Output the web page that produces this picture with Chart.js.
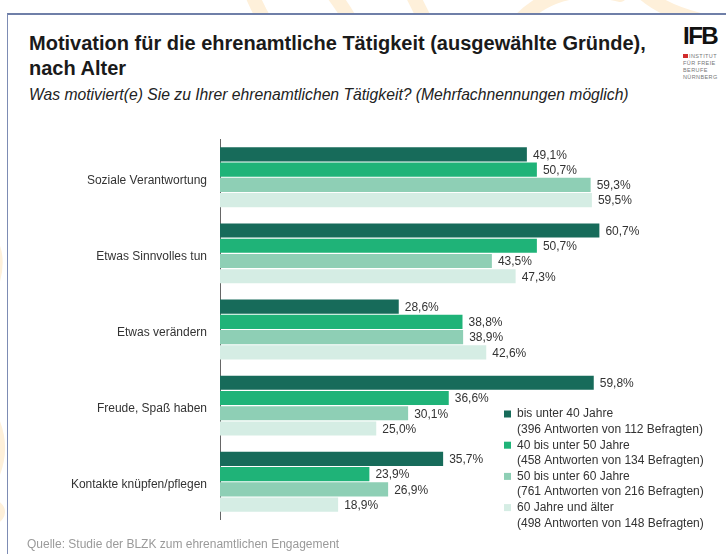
<!DOCTYPE html>
<html>
<head>
<meta charset="utf-8">
<script src="https://cdn.jsdelivr.net/npm/chart.js@4/dist/chart.umd.min.js"></script>
<style>
  body { margin: 0; width: 726px; height: 554px; background: #fff; position: relative; overflow: hidden;
         font-family: "Liberation Sans", Arial, sans-serif; color: #222; }
  #bg { position: absolute; left: 0; top: 0; }
  #frame { position: absolute; left: 7px; top: 13px; right: 0; bottom: 0; background: #fff;
           border-left: 1.5px solid #7d8cb4; border-top: 2px solid #6f7fa8; }
  #title { position: absolute; left: 29px; top: 31px; font-size: 20px; font-weight: bold; line-height: 25px; color: #1a1a1a; }
  #subtitle { position: absolute; left: 29px; top: 86px; font-size: 15.7px; font-style: italic; color: #222; }
  #source { position: absolute; left: 27px; top: 537px; font-size: 12px; color: #9a9a9a; }
  #logo { position: absolute; left: 683px; top: 25px; width: 42px; }
  #logo .big { font-size: 23px; font-weight: bold; letter-spacing: -1.5px; line-height: 22px; color: #111;
               transform: scaleX(1.05); transform-origin: left; }
  #logo .small { margin-top: 6px; font-size: 5.5px; line-height: 7px; color: #777; letter-spacing: 0.4px; }
  #logo .small b { display: inline-block; width: 5px; height: 4px; background: #d12b2b; margin-right: 1px; }
  #wrap { position: absolute; left: 0; top: 119px; width: 726px; height: 421px; }
</style>
</head>
<body>
<svg id="bg" width="726" height="554">
  <g fill="none" stroke="#fef0da" stroke-width="14" stroke-linecap="round">
    <path d="M250 -10 Q 270 40 300 60"/>
    <path d="M330 -10 Q 345 10 350 20"/>
    <path d="M410 -10 Q 420 10 425 20"/>
    <path d="M520 20 Q 560 -20 620 -5"/>
    <path d="M640 -10 Q 660 10 700 20"/>
    <path d="M -20 230 Q 5 250 -10 290"/>
    <path d="M -20 400 Q 10 440 -10 480"/>
    <path d="M -20 500 Q 10 510 -10 520"/>
  </g>
</svg>
<div id="frame"></div>
<div id="title">Motivation für die ehrenamtliche Tätigkeit (ausgewählte Gründe),<br>nach Alter</div>
<div id="subtitle">Was motiviert(e) Sie zu Ihrer ehrenamtlichen Tätigkeit? (Mehrfachnennungen möglich)</div>
<div id="logo"><div class="big">IFB</div><div class="small"><b></b>INSTITUT<br>FÜR FREIE<br>BERUFE<br>NÜRNBERG</div></div>
<div id="wrap"><canvas id="chart"></canvas></div>
<div id="source">Quelle: Studie der BLZK zum ehrenamtlichen Engagement</div>
<script>
const categories = ['Soziale Verantwortung', 'Etwas Sinnvolles tun', 'Etwas verändern', 'Freude, Spaß haben', 'Kontakte knüpfen/pflegen'];
const seriesNames = ['bis unter 40 Jahre', '40 bis unter 50 Jahre', '50 bis unter 60 Jahre', '60 Jahre und älter'];
const seriesNotes = ['(396 Antworten von 112 Befragten)', '(458 Antworten von 134 Befragten)', '(761 Antworten von 216 Befragten)', '(498 Antworten von 148 Befragten)'];
const under40 = [49.1, 60.7, 28.6, 59.8, 35.7];
const from40to50 = [50.7, 50.7, 38.8, 36.6, 23.9];
const from50to60 = [59.3, 43.5, 38.9, 30.1, 26.9];
const over60 = [59.5, 47.3, 42.6, 25.0, 18.9];
const colors = ['#176b5a', '#1fb378', '#8ecfb5', '#d5ede4'];

const values = [under40, from40to50, from50to60, over60];

// value labels behind each bar
const barLabels = {
  id: 'barLabels',
  afterDatasetsDraw(chart) {
    const ctx = chart.ctx;
    ctx.save();
    ctx.font = '12px "Liberation Sans", Arial, sans-serif';
    ctx.fillStyle = '#333';
    ctx.textBaseline = 'middle';
    chart.data.datasets.forEach((ds, i) => {
      chart.getDatasetMeta(i).data.forEach((bar, j) => {
        const txt = ds.data[j].toFixed(1).replace('.', ',') + '%';
        ctx.fillText(txt, bar.x + 6, bar.y + 1);
      });
    });
    ctx.restore();
  }
};

// two-line legend in the lower right (page y 413 -> canvas y)
const legendBox = {
  id: 'legendBox',
  afterDraw(chart) {
    const ctx = chart.ctx;
    ctx.save();
    ctx.font = '12px "Liberation Sans", Arial, sans-serif';
    ctx.textBaseline = 'middle';
    const x = 504, y0 = 295, step = 15.6;
    chart.data.datasets.forEach((ds, i) => {
      const y = y0 + i * 2 * step;
      ctx.fillStyle = ds.backgroundColor;
      ctx.fillRect(x, y - 3.5, 7, 7);
      ctx.fillStyle = '#333';
      ctx.fillText(ds.label, x + 13, y);
      ctx.fillText(seriesNotes[i], x + 13, y + step);
    });
    ctx.restore();
  }
};

new Chart(document.getElementById('chart'), {
  type: 'bar',
  data: {
    labels: categories,
    datasets: seriesNames.map((name, i) => ({
      label: name,
      data: values[i],
      backgroundColor: colors[i],
      borderWidth: 0,
      categoryPercentage: 0.8,
      barPercentage: 0.93
    }))
  },
  options: {
    indexAxis: 'y',
    responsive: true,
    maintainAspectRatio: false,
    animation: false,
    layout: { padding: { top: 0, bottom: 0, right: 6 } },
    scales: {
      x: { display: false, min: 0, max: 80 },
      y: {
        afterFit(scale) { scale.width = 220; },
        grid: { display: false, drawTicks: false },
        border: { display: true, color: '#666', width: 1 },
        ticks: { color: '#333', padding: 13, labelOffset: 3, font: { size: 12, family: '"Liberation Sans", Arial, sans-serif' } }
      }
    },
    plugins: { legend: { display: false }, tooltip: { enabled: false } }
  },
  plugins: [barLabels, legendBox]
});
</script>
</body>
</html>
